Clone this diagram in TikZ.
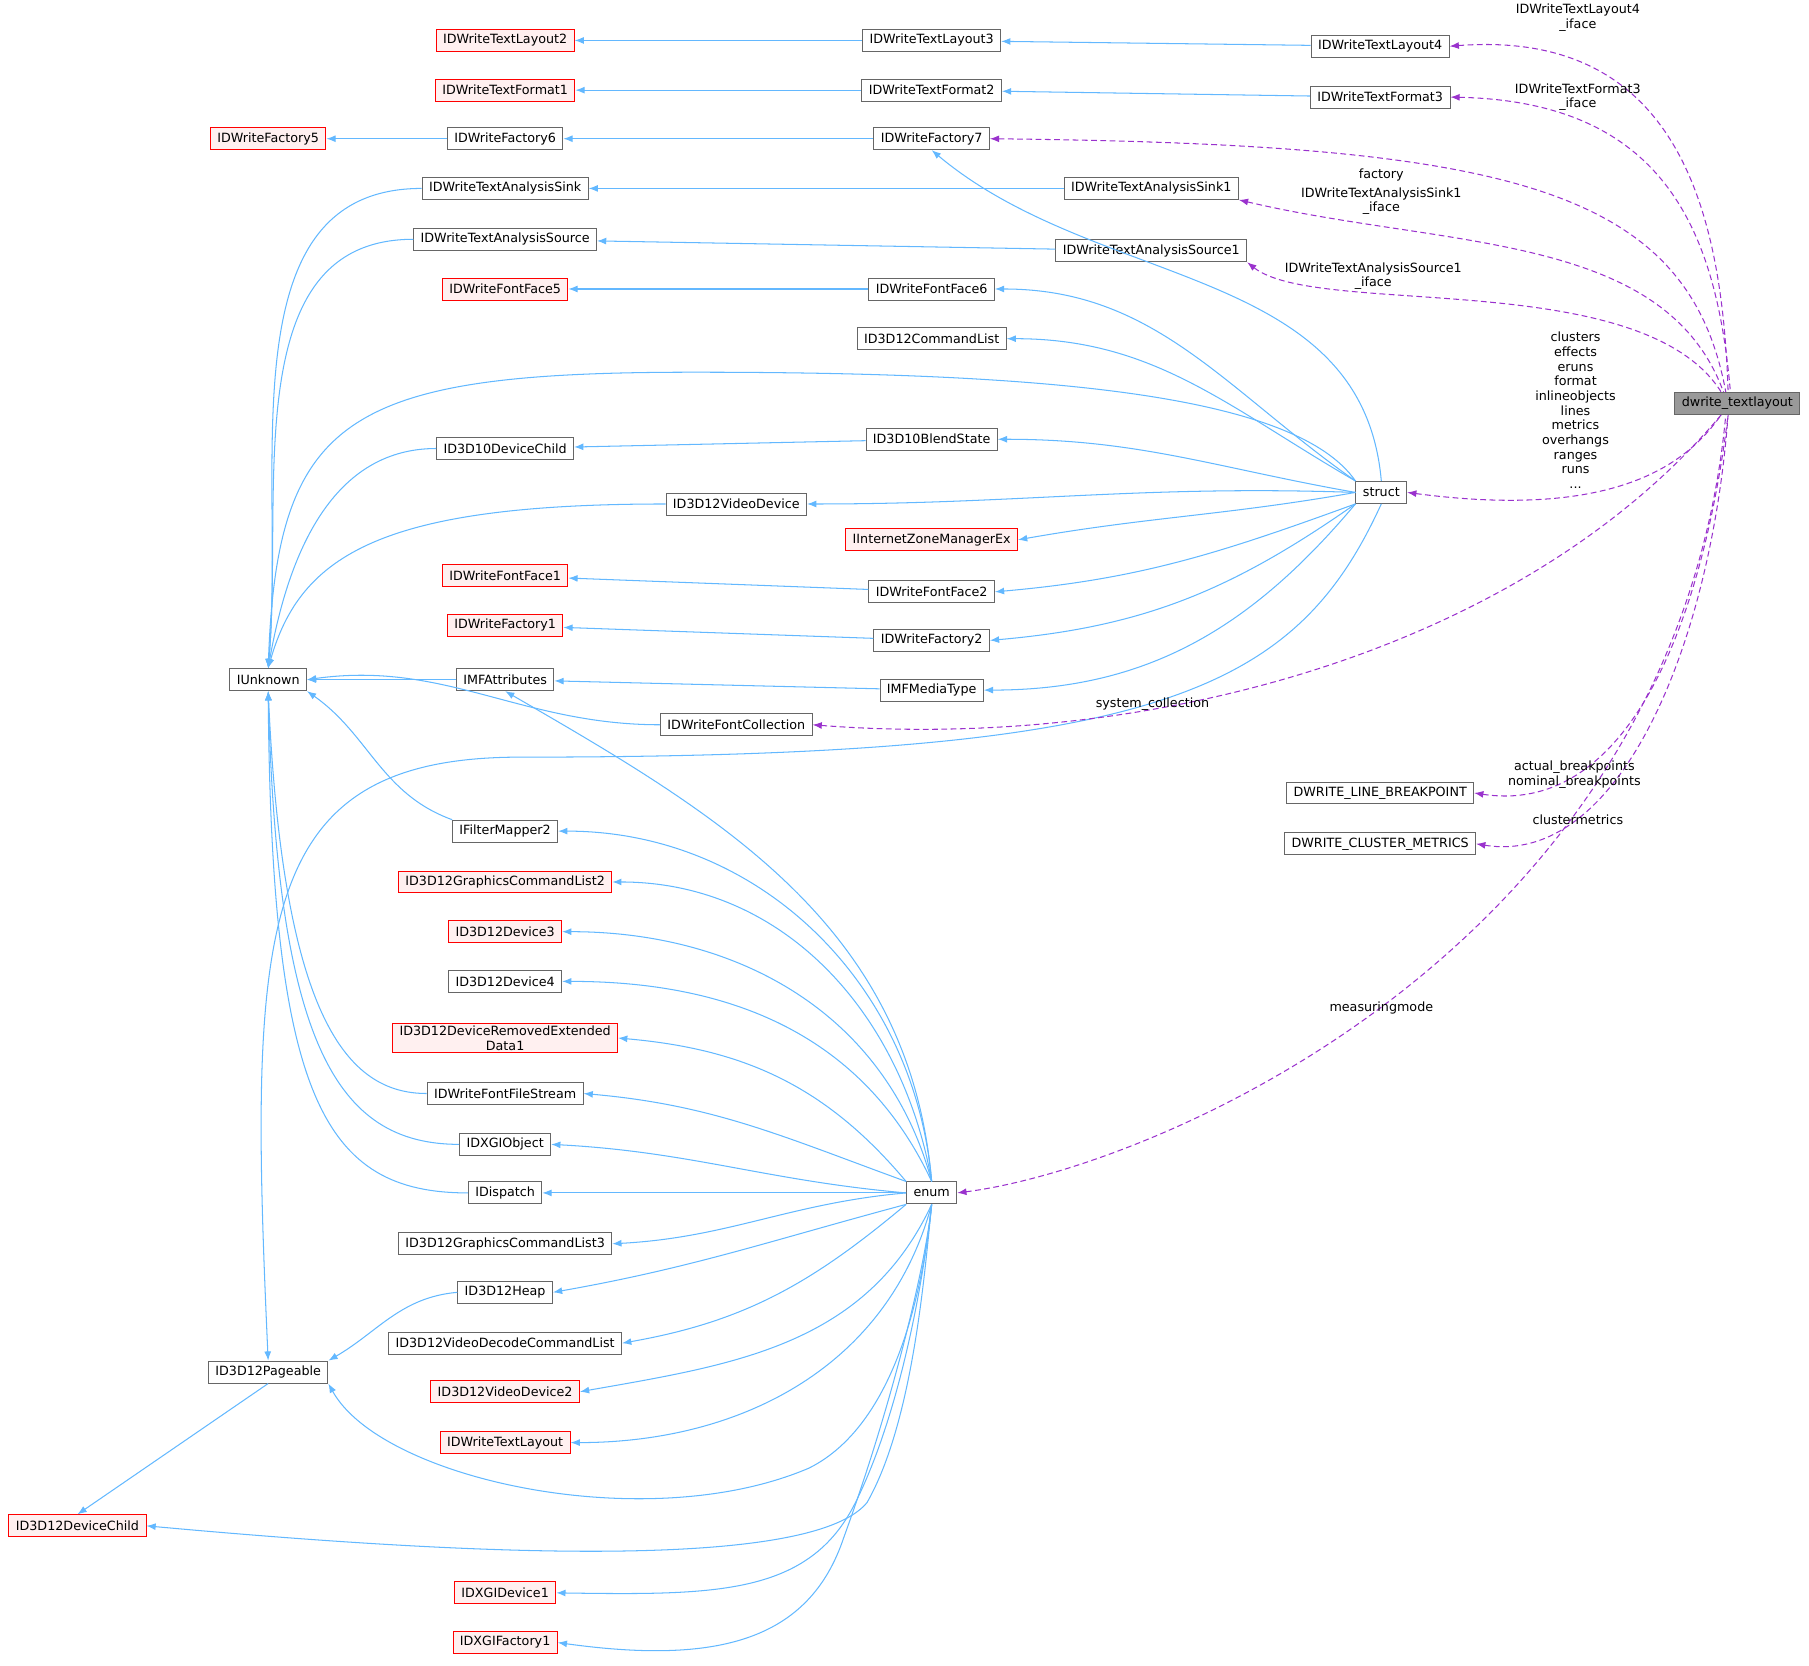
\documentclass[tikz,border=0pt]{standalone}
\usepackage{fontspec}
\setmainfont{DejaVu Sans}
\usetikzlibrary{arrows.meta}
\definecolor{eblue}{HTML}{63B8FF}
\definecolor{epur}{HTML}{9A32CD}
\definecolor{rfill}{HTML}{FFF0F0}
\begin{document}
\begin{tikzpicture}[x=1pt,y=-1pt,
  every node/.style={font=\fontsize{11}{13}\selectfont},
  box/.style={draw=black!60,fill=white,minimum height=19,inner xsep=6,inner ysep=2,line width=0.8},
  rbox/.style={box,draw=red,fill=rfill},
  inh/.style={eblue,line width=0.9,{Latex[length=8,width=6]}-},
  use/.style={epur,line width=0.9,dashed,dash pattern=on 5pt off 3pt,{Latex[length=8,width=6]}-},
  lbl/.style={align=center,inner sep=0,font=\fontsize{11}{12.7}\selectfont}]
\useasboundingbox (0,0) rectangle (1565,1441);
% nodes
\node[box,fill=black!40] (dw) at (1503,349) {dwrite\_textlayout};
\node[box] (L4) at (1194,40) {IDWriteTextLayout4};
\node[box] (F3) at (1194,84) {IDWriteTextFormat3};
\node[box] (st) at (1195,426) {struct};
\node[box] (LB) at (1194,686) {DWRITE\_LINE\_BREAKPOINT};
\node[box] (CM) at (1194,730) {DWRITE\_CLUSTER\_METRICS};
\node[box] (L3) at (806,35) {IDWriteTextLayout3};
\node[box] (F2) at (806,78) {IDWriteTextFormat2};
\node[box] (Fa7) at (806,120) {IDWriteFactory7};
\node[box] (Sk1) at (996,163) {IDWriteTextAnalysisSink1};
\node[box] (So1) at (996,217) {IDWriteTextAnalysisSource1};
\node[box] (FF6) at (806,250) {IDWriteFontFace6};
\node[box] (CL) at (806,293) {ID3D12CommandList};
\node[box] (BS) at (806,380) {ID3D10BlendState};
\node[rbox] (IZ) at (806,467) {IInternetZoneManagerEx};
\node[box] (FF2) at (806,512) {IDWriteFontFace2};
\node[box] (Fa2) at (806,554) {IDWriteFactory2};
\node[box] (MT) at (806,597) {IMFMediaType};
\node[box] (en) at (806,1032) {enum};
\node[rbox] (L2) at (437,35) {IDWriteTextLayout2};
\node[rbox] (F1) at (437,78) {IDWriteTextFormat1};
\node[box] (Fa6) at (437,120) {IDWriteFactory6};
\node[box] (Sk) at (437,163) {IDWriteTextAnalysisSink};
\node[box] (So) at (437,207) {IDWriteTextAnalysisSource};
\node[rbox] (FF5) at (437,250) {IDWriteFontFace5};
\node[box] (DC10) at (437,388) {ID3D10DeviceChild};
\node[box] (VD) at (637,436) {ID3D12VideoDevice};
\node[rbox] (FF1) at (437,498) {IDWriteFontFace1};
\node[rbox] (Fa1) at (437,541) {IDWriteFactory1};
\node[box] (MA) at (437,588) {IMFAttributes};
\node[box] (FC) at (637,627) {IDWriteFontCollection};
\node[box] (FM) at (437,719) {IFilterMapper2};
\node[rbox] (G2) at (437,763) {ID3D12GraphicsCommandList2};
\node[rbox] (D3) at (437,806) {ID3D12Device3};
\node[box] (D4) at (437,849) {ID3D12Device4};
\node[rbox,align=center,font=\fontsize{11}{13}\selectfont] (DR) at (437,898) {ID3D12DeviceRemovedExtended\\Data1};
\node[box] (FS) at (437,946) {IDWriteFontFileStream};
\node[box] (XO) at (437,990) {IDXGIObject};
\node[box] (ID) at (437,1032) {IDispatch};
\node[box] (G3) at (437,1076) {ID3D12GraphicsCommandList3};
\node[box] (HP) at (437,1118) {ID3D12Heap};
\node[box] (VC) at (437,1162) {ID3D12VideoDecodeCommandList};
\node[rbox] (VD2) at (437,1204) {ID3D12VideoDevice2};
\node[rbox] (TL) at (437,1248) {IDWriteTextLayout};
\node[rbox] (XD) at (437,1378) {IDXGIDevice1};
\node[rbox] (XF) at (437,1421) {IDXGIFactory1};
\node[rbox] (Fa5) at (232,120) {IDWriteFactory5};
\node[box] (IU) at (232,588) {IUnknown};
\node[box] (PG) at (232,1187) {ID3D12Pageable};
\node[rbox] (DC) at (67,1320) {ID3D12DeviceChild};
% straight inheritance
\draw[inh] (L2) -- (L3); \draw[inh] (L3) -- (L4);
\draw[inh] (F1) -- (F2); \draw[inh] (F2) -- (F3);
\draw[inh] (Fa5) -- (Fa6); \draw[inh] (Fa6) -- (Fa7);
\draw[inh] (Sk) -- (Sk1); \draw[inh] (So) -- (So1);
\draw[inh] (FF5) -- (FF6); \draw[inh] (DC10) -- (BS);
\draw[inh] (FF1) -- (FF2); \draw[inh] (Fa1) -- (Fa2);
\draw[inh] (MA) -- (MT); \draw[inh] (IU) -- (MA);
\draw[inh] (IU.east) to[out=8,in=180] (FC.west);
\draw[inh] (DC.north) -- (PG.south);
\draw[inh] (PG.north east) to[out=30,in=185] (HP.west);
% struct
\draw[inh] (Fa7.south) to[out=-40,in=95] (st.north);
\draw[inh] (FF6.east) to[out=0,in=145] (st.north west);
\draw[inh] (CL.east) to[out=0,in=150] (st.north west);
\draw[inh] (BS.east) to[out=0,in=170] (st.west);
\draw[inh] (VD.east) to[out=0,in=178] (st.west);
\draw[inh] (IZ.east) to[out=10,in=190] (st.west);
\draw[inh] (FF2.east) to[out=5,in=200] (st.south west);
\draw[inh] (Fa2.east) to[out=5,in=215] (st.south west);
\draw[inh] (MT.east) to[out=0,in=230] (st.south west);
\draw[inh] (IU.north) .. controls (240,360) and (300,322) .. (600,322) .. controls (900,322) and (1120,340) .. (st.north west);
\draw[inh] (PG.north) .. controls (215,800) and (220,655) .. (450,655) .. controls (1000,655) and (1120,600) .. (st.south);
% IUnknown
\draw[inh] (IU.north) to[out=85,in=180] (Sk.west);
\draw[inh] (IU.north) to[out=85,in=180] (So.west);
\draw[inh] (IU.north) to[out=80,in=180] (DC10.west);
\draw[inh] (IU.north) .. controls (260,480) and (330,436) .. (VD.west);
\draw[inh] (IU.south east) to[out=-35,in=160] (FM.north west);
\draw[inh] (IU.south) .. controls (245,880) and (300,946) .. (FS.west);
\draw[inh] (IU.south) .. controls (240,900) and (290,990) .. (XO.west);
\draw[inh] (IU.south) .. controls (235,950) and (280,1032) .. (ID.west);
% enum
\draw[inh] (MA.south) to[out=-30,in=95] (en.north);
\draw[inh] (FM.east) to[out=0,in=95] (en.north);
\draw[inh] (G2.east) to[out=0,in=100] (en.north);
\draw[inh] (D3.east) to[out=0,in=105] (en.north);
\draw[inh] (D4.east) to[out=0,in=115] (en.north);
\draw[inh] (DR.east) to[out=-5,in=130] (en.north west);
\draw[inh] (FS.east) to[out=-5,in=160] (en.north west);
\draw[inh] (XO.east) to[out=-3,in=175] (en.west);
\draw[inh] (ID) -- (en);
\draw[inh] (G3.east) to[out=3,in=185] (en.west);
\draw[inh] (HP.east) to[out=10,in=195] (en.south west);
\draw[inh] (VC.east) to[out=10,in=220] (en.south west);
\draw[inh] (VD2.east) to[out=10,in=245] (en.south);
\draw[inh] (TL.east) to[out=0,in=255] (en.south);
\draw[inh] (PG.south east) .. controls (330,1280) and (560,1330) .. (700,1270) .. controls (780,1230) and (800,1100) .. (en.south);
\draw[inh] (DC.east) .. controls (400,1345) and (700,1360) .. (750,1300) .. controls (790,1230) and (800,1100) .. (en.south);
\draw[inh] (XD.east) .. controls (620,1380) and (700,1380) .. (740,1300) .. controls (780,1220) and (800,1100) .. (en.south);
\draw[inh] (XF.east) .. controls (620,1440) and (700,1420) .. (730,1330) .. controls (770,1220) and (800,1100) .. (en.south);
% usage
\draw[use] (L4.east) .. controls (1450,25) and (1490,180) .. ([xshift=-8]dw.north);
\draw[use] (F3.east) .. controls (1440,88) and (1485,200) .. ([xshift=-6]dw.north);
\draw[use] (Fa7.east) .. controls (1300,125) and (1460,160) .. ([xshift=-10]dw.north);
\draw[use] (Sk1.south east) .. controls (1250,215) and (1440,200) .. ([xshift=-12]dw.north);
\draw[use] (So1.south east) .. controls (1140,275) and (1420,230) .. ([xshift=-14]dw.north);
\draw[use] (st.east) .. controls (1400,450) and (1460,400) .. ([xshift=-14]dw.south);
\draw[use] (FC.east) .. controls (1000,650) and (1320,560) .. ([xshift=-14]dw.south);
\draw[use] (LB.east) .. controls (1400,705) and (1470,560) .. ([xshift=-8]dw.south);
\draw[use] (CM.east) .. controls (1400,750) and (1480,560) .. ([xshift=-8]dw.south);
\draw[use] (en.east) .. controls (1000,1010) and (1450,820) .. ([xshift=-10]dw.south);
% labels
\node[lbl] (l1) at (1365,15) {IDWriteTextLayout4\\\_iface};
\node[lbl] (l2) at (1365,84) {IDWriteTextFormat3\\\_iface};
\node[lbl] (l3) at (1195,151) {factory};
\node[lbl] (l4) at (1195,174) {IDWriteTextAnalysisSink1\\\_iface};
\node[lbl] (l5) at (1188,239) {IDWriteTextAnalysisSource1\\\_iface};
\node[lbl] (l6) at (1363,355) {clusters\\effects\\eruns\\format\\inlineobjects\\lines\\metrics\\overhangs\\ranges\\runs\\...};
\node[lbl] (l7) at (997,609) {system\_collection};
\node[lbl] (l8) at (1362,670) {actual\_breakpoints\\nominal\_breakpoints};
\node[lbl] (l9) at (1365,709) {clustermetrics};
\node[lbl] (l10) at (1195,872) {measuringmode};
\end{tikzpicture}
\end{document}
